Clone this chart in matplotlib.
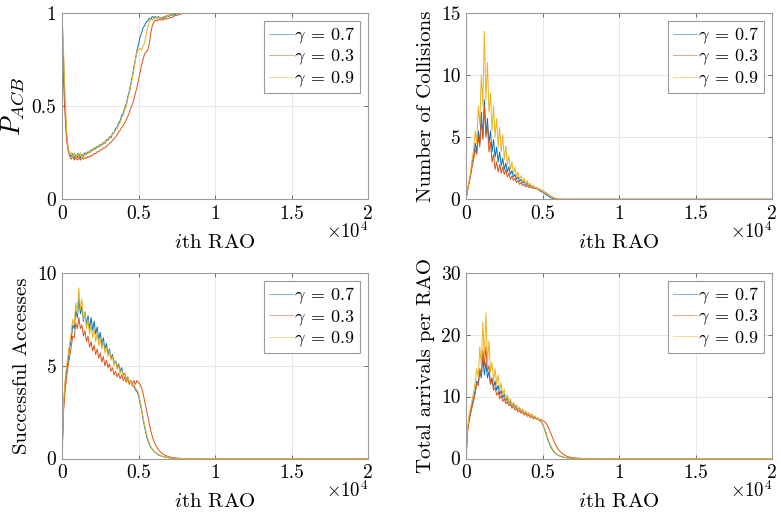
import numpy as np
import matplotlib
matplotlib.use("Agg")
import matplotlib.pyplot as plt

plt.rcParams["font.family"] = "serif"
plt.rcParams["font.serif"] = ["cmr10"]
plt.rcParams["mathtext.fontset"] = "cm"
plt.rcParams["axes.formatter.use_mathtext"] = True

# RAO index grid (every 100 RAOs), series stay flat afterwards up to RAO_END
RAO_STEP = 100
RAO_END = 20000
labels = [r"$\gamma\:=\:0.7$", r"$\gamma\:=\:0.3$", r"$\gamma\:=\:0.9$"]
colors = ["#0072BD", "#D95319", "#EDB120"]

# ---- P_ACB ----
pacb_07 = [1.00, 0.75, 0.50, 0.34, 0.27, 0.24, 0.23, 0.245, 0.22, 0.24, 0.225, 0.245, 0.22, 0.24, 0.23, 0.25,
           0.24, 0.255, 0.25, 0.265, 0.26, 0.275, 0.27, 0.285, 0.28, 0.295, 0.29, 0.305, 0.30, 0.32, 0.315,
           0.335, 0.33, 0.355, 0.355, 0.38, 0.385, 0.41, 0.42, 0.45, 0.46, 0.49, 0.51, 0.55, 0.58, 0.62, 0.66,
           0.71, 0.75, 0.80, 0.83, 0.87, 0.89, 0.92, 0.93, 0.95, 0.955, 0.97, 0.965, 0.98, 0.975, 0.98, 0.97,
           0.98, 0.97, 0.975, 0.97, 0.98, 0.975, 0.985, 0.98, 0.99, 0.985, 0.99, 0.99, 0.995, 0.995, 1.0]
pacb_03 = [1.00, 0.62, 0.45, 0.32, 0.26, 0.23, 0.215, 0.23, 0.21, 0.225, 0.21, 0.225, 0.21, 0.225, 0.215, 0.225,
           0.22, 0.23, 0.225, 0.235, 0.235, 0.245, 0.245, 0.255, 0.255, 0.265, 0.265, 0.275, 0.275, 0.285, 0.29,
           0.30, 0.305, 0.315, 0.325, 0.335, 0.345, 0.36, 0.37, 0.385, 0.395, 0.41, 0.425, 0.445, 0.465, 0.49,
           0.51, 0.535, 0.57, 0.60, 0.64, 0.68, 0.72, 0.75, 0.78, 0.79, 0.80, 0.83, 0.89, 0.93, 0.95, 0.96,
           0.955, 0.965, 0.96, 0.965, 0.96, 0.97, 0.965, 0.97, 0.97, 0.975, 0.975, 0.98, 0.985, 0.985, 0.99,
           0.99, 0.995, 0.995, 1.0]
pacb_09 = [1.00, 0.80, 0.55, 0.37, 0.28, 0.24, 0.25, 0.225, 0.25, 0.22, 0.245, 0.23, 0.25, 0.215, 0.245, 0.235,
           0.25, 0.245, 0.26, 0.255, 0.27, 0.265, 0.28, 0.275, 0.29, 0.285, 0.30, 0.295, 0.31, 0.31, 0.325,
           0.325, 0.34, 0.345, 0.36, 0.37, 0.38, 0.40, 0.41, 0.44, 0.45, 0.48, 0.50, 0.54, 0.57, 0.61, 0.65,
           0.70, 0.75, 0.79, 0.80, 0.81, 0.80, 0.82, 0.84, 0.88, 0.92, 0.95, 0.965, 0.96, 0.97, 0.965, 0.975,
           0.97, 0.975, 0.97, 0.98, 0.975, 0.985, 0.98, 0.99, 0.985, 0.99, 0.995, 0.995, 1.0]

# ---- Number of collisions ----
coll_07 = [0, 0.7, 1.4, 2.0, 3.0, 3.5, 4.5, 3.8, 5.5, 4.5, 7.0, 5.0, 8.0, 5.2, 6.5, 4.5, 5.5, 3.8, 4.8, 3.4,
           4.2, 3.0, 3.8, 2.7, 3.3, 2.4, 2.9, 2.2, 2.6, 2.0, 2.3, 1.8, 2.0, 1.6, 1.8, 1.45, 1.6, 1.3, 1.45,
           1.15, 1.3, 1.05, 1.15, 0.95, 1.0, 0.85, 0.9, 0.75, 0.75, 0.6, 0.6, 0.45, 0.4, 0.3, 0.25, 0.15, 0.1,
           0.06, 0.03, 0.01, 0]
coll_03 = [0, 0.7, 1.3, 1.9, 2.6, 3.2, 4.0, 3.6, 5.0, 4.2, 6.5, 4.8, 7.5, 5.0, 6.0, 3.8, 4.6, 3.0, 3.6, 2.4,
           3.0, 2.2, 2.8, 2.1, 2.6, 2.0, 2.4, 1.8, 2.1, 1.6, 1.9, 1.5, 1.7, 1.35, 1.5, 1.2, 1.35, 1.1, 1.2,
           1.0, 1.1, 0.95, 1.0, 0.9, 0.95, 0.85, 0.9, 0.8, 0.8, 0.75, 0.7, 0.6, 0.55, 0.45, 0.38, 0.28, 0.2,
           0.13, 0.08, 0.04, 0.02, 0.01, 0]
coll_09 = [0, 0.8, 1.5, 2.2, 3.2, 4.0, 5.5, 4.5, 7.5, 6.0, 10.0, 7.5, 13.5, 8.0, 11.0, 7.0, 8.5, 5.5, 7.5, 5.0,
           6.5, 4.2, 5.8, 3.8, 5.2, 3.2, 4.3, 2.8, 3.5, 2.4, 3.0, 2.1, 2.6, 1.8, 2.2, 1.6, 1.9, 1.4, 1.7,
           1.2, 1.5, 1.1, 1.3, 1.0, 1.15, 0.9, 1.0, 0.8, 0.85, 0.7, 0.7, 0.55, 0.5, 0.4, 0.35, 0.25, 0.2,
           0.12, 0.08, 0.04, 0.02, 0.01, 0]

# ---- Successful accesses ----
succ_07 = [0, 2.8, 4.0, 4.8, 5.3, 6.0, 6.4, 7.2, 7.0, 8.0, 7.6, 8.6, 7.8, 8.2, 7.4, 7.9, 7.2, 7.7, 7.0, 7.6,
           6.9, 7.4, 6.7, 7.1, 6.4, 6.8, 6.1, 6.5, 5.9, 6.2, 5.6, 5.9, 5.4, 5.6, 5.1, 5.3, 4.9, 5.1, 4.7, 4.9,
           4.5, 4.6, 4.3, 4.4, 4.1, 4.2, 3.9, 3.9, 3.7, 3.6, 3.4, 3.0, 2.6, 2.1, 1.7, 1.3, 1.0, 0.8, 0.6, 0.5,
           0.4, 0.32, 0.26, 0.2, 0.16, 0.13, 0.1, 0.08, 0.06, 0.05, 0.04, 0.03, 0.02, 0.015, 0.01, 0.005, 0]
succ_03 = [0, 2.5, 3.6, 4.4, 5.0, 5.5, 6.0, 6.6, 6.5, 7.3, 7.0, 7.6, 7.0, 7.2, 6.6, 6.9, 6.3, 6.6, 6.0, 6.3,
           5.8, 6.1, 5.6, 5.9, 5.4, 5.7, 5.2, 5.5, 5.0, 5.3, 4.9, 5.1, 4.7, 4.9, 4.5, 4.7, 4.4, 4.6, 4.3, 4.5,
           4.2, 4.4, 4.1, 4.3, 4.0, 4.2, 4.0, 4.2, 4.0, 4.2, 4.1, 4.0, 3.8, 3.5, 3.1, 2.7, 2.3, 1.9, 1.5, 1.2,
           0.95, 0.75, 0.6, 0.48, 0.38, 0.3, 0.24, 0.19, 0.15, 0.12, 0.09, 0.07, 0.05, 0.04, 0.03, 0.02, 0.015,
           0.01, 0.005, 0]
succ_09 = [0, 3.0, 4.2, 5.0, 5.6, 6.2, 6.8, 7.5, 7.2, 8.4, 7.8, 9.2, 8.0, 8.6, 7.5, 7.9, 7.0, 7.5, 6.7, 7.2,
           6.5, 7.0, 6.3, 6.8, 6.1, 6.5, 5.9, 6.3, 5.7, 6.0, 5.5, 5.8, 5.3, 5.5, 5.0, 5.3, 4.8, 5.0, 4.6, 4.8,
           4.4, 4.6, 4.2, 4.4, 4.1, 4.2, 3.9, 4.0, 3.8, 3.7, 3.5, 3.1, 2.7, 2.2, 1.8, 1.4, 1.1, 0.85, 0.65, 0.52,
           0.42, 0.34, 0.28, 0.22, 0.18, 0.14, 0.11, 0.09, 0.07, 0.05, 0.04, 0.03, 0.02, 0.015, 0.01, 0.005, 0]

# ---- Total arrivals per RAO ----
arr_07 = [0, 4.5, 6.5, 7.8, 8.8, 9.8, 11.0, 12.5, 12.0, 14.0, 13.0, 16.5, 13.5, 15.5, 13.0, 14.0, 12.0, 13.0,
          11.5, 12.5, 11.0, 11.8, 10.3, 11.0, 9.8, 10.4, 9.3, 9.8, 8.9, 9.3, 8.5, 8.9, 8.2, 8.5, 7.9, 8.2, 7.6,
          7.9, 7.3, 7.6, 7.1, 7.3, 6.9, 7.1, 6.7, 6.8, 6.4, 6.5, 6.1, 6.0, 5.6, 5.0, 4.2, 3.4, 2.7, 2.1, 1.6,
          1.2, 0.9, 0.7, 0.55, 0.42, 0.33, 0.26, 0.2, 0.15, 0.12, 0.09, 0.07, 0.05, 0.04, 0.03, 0.02, 0.01,
          0.005, 0]
arr_03 = [0, 4.2, 6.0, 7.2, 8.3, 9.3, 10.5, 12.0, 11.8, 14.5, 13.5, 17.5, 15.0, 18.0, 14.0, 15.0, 12.0, 12.8,
          11.0, 11.5, 10.2, 10.8, 9.6, 10.2, 9.2, 9.7, 8.8, 9.2, 8.5, 8.8, 8.1, 8.5, 7.8, 8.1, 7.5, 7.8, 7.3,
          7.5, 7.0, 7.3, 6.8, 7.0, 6.6, 6.8, 6.4, 6.6, 6.3, 6.4, 6.2, 6.3, 6.1, 6.0, 5.8, 5.4, 4.9, 4.3, 3.7,
          3.1, 2.5, 2.0, 1.6, 1.25, 1.0, 0.78, 0.6, 0.47, 0.36, 0.28, 0.21, 0.16, 0.12, 0.09, 0.07, 0.05, 0.04,
          0.03, 0.02, 0.01, 0.005, 0]
arr_09 = [0, 4.8, 7.0, 8.2, 9.5, 10.8, 12.5, 14.5, 13.0, 18.0, 15.0, 22.0, 16.5, 23.5, 15.5, 19.0, 14.0, 15.5,
          12.5, 14.5, 12.0, 13.5, 11.0, 12.2, 10.2, 11.2, 9.5, 10.3, 9.0, 9.6, 8.6, 9.1, 8.3, 8.7, 7.9, 8.3,
          7.6, 8.0, 7.3, 7.7, 7.1, 7.4, 6.9, 7.2, 6.7, 6.9, 6.4, 6.6, 6.2, 6.1, 5.7, 5.1, 4.4, 3.6, 2.9, 2.3,
          1.8, 1.35, 1.0, 0.78, 0.6, 0.46, 0.36, 0.28, 0.22, 0.17, 0.13, 0.1, 0.08, 0.06, 0.045, 0.03, 0.02,
          0.01, 0.005, 0]

panels = [
    dict(series=[pacb_07, pacb_03, pacb_09], ylabel=r"$P_{ACB}$", ylim=(0, 1), yticks=[0, 0.5, 1],
         yticklabels=["0", "0.5", "1"], rect=[0.0794, 0.613, 0.3918, 0.3623], ylsize=19),
    dict(series=[coll_07, coll_03, coll_09], ylabel="Number of Collisions", ylim=(0, 15),
         yticks=[0, 5, 10, 15], yticklabels=["0", "5", "10", "15"], rect=[0.5967, 0.613, 0.3918, 0.3623],
         ylsize=15),
    dict(series=[succ_07, succ_03, succ_09], ylabel="Successful Accesses", ylim=(0, 10),
         yticks=[0, 5, 10], yticklabels=["0", "5", "10"], rect=[0.0794, 0.1097, 0.3918, 0.3602],
         ylsize=15),
    dict(series=[arr_07, arr_03, arr_09], ylabel="Total arrivals per RAO", ylim=(0, 30),
         yticks=[0, 10, 20, 30], yticklabels=["0", "10", "20", "30"], rect=[0.5967, 0.1097, 0.3918, 0.3610],
         ylsize=15),
]

fig = plt.figure(figsize=(7.81, 5.15), dpi=100)
for p in panels:
    ax = fig.add_axes(p["rect"])
    for vals, c, lab in zip(p["series"], colors, labels):
        x = np.arange(len(vals)) * RAO_STEP
        x = np.append(x, RAO_END)
        y = np.append(vals, vals[-1])
        ax.plot(x, y, color=c, lw=0.7, label=lab)
    ax.set_xlim(0, RAO_END)
    ax.set_ylim(*p["ylim"])
    ax.set_xticks([0, 5000, 10000, 15000, 20000])
    ax.set_xticklabels(["0", "0.5", "1", "1.5", "2"])
    ax.set_yticks(p["yticks"])
    ax.set_yticklabels(p["yticklabels"])
    ax.tick_params(direction="in", length=3, width=0.6, color="#555555", labelsize=14,
                   top=True, right=True, pad=4)
    for s in ax.spines.values():
        s.set_color("#9a9a9a")
        s.set_linewidth(0.8)
    ax.grid(True, color="#e4e4e4", lw=0.6)
    ax.set_axisbelow(True)
    ax.set_xlabel(r"$i$th RAO", fontsize=15, labelpad=8)
    ax.set_ylabel(p["ylabel"], fontsize=p["ylsize"], labelpad=4)
    ax.text(1.0, -0.17, r"$\times10^4$", transform=ax.transAxes, ha="right", va="center", fontsize=13.5)
    leg = ax.legend(loc="upper right", fontsize=13, frameon=True, fancybox=False, framealpha=1,
                    edgecolor="#9a9a9a", handlelength=1.35, handletextpad=0.05, borderpad=0.25,
                    labelspacing=0.1, borderaxespad=0.45)
    leg.get_frame().set_linewidth(0.8)
    for h in leg.get_lines():
        h.set_alpha(0.5)

fig.savefig("out.png", dpi=100)
